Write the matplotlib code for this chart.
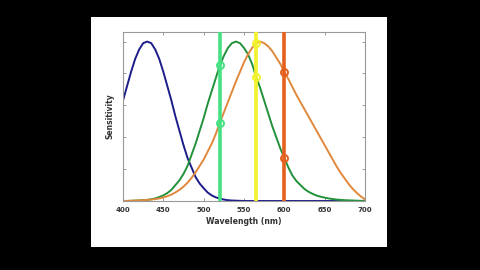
import numpy as np
import matplotlib
matplotlib.use("Agg")
import matplotlib.pyplot as plt
from matplotlib.patches import Rectangle

# wavelength grid (nm), 5 nm steps
wavelength = list(range(400, 701, 5))

# cone sensitivities
s_cone = [0.63, 0.72, 0.81, 0.89, 0.95, 0.99, 1.00, 0.99, 0.95, 0.89, 0.81,
          0.72, 0.63, 0.53, 0.44, 0.35, 0.27, 0.21, 0.15, 0.11, 0.08,
          0.053, 0.035, 0.023, 0.015, 0.009, 0.005, 0.003, 0.002, 0.001, 0.0,
          0.0, 0.0, 0.0, 0.0, 0.0, 0.0, 0.0, 0.0, 0.0, 0.0,
          0.0, 0.0, 0.0, 0.0, 0.0, 0.0, 0.0, 0.0, 0.0, 0.0,
          0.0, 0.0, 0.0, 0.0, 0.0, 0.0, 0.0, 0.0, 0.0, 0.0]
m_cone = [0.0, 0.0, 0.001, 0.002, 0.003, 0.005, 0.007, 0.011, 0.016, 0.025, 0.035,
          0.05, 0.07, 0.10, 0.13, 0.17, 0.22, 0.29, 0.36, 0.44, 0.52,
          0.61, 0.69, 0.77, 0.85, 0.91, 0.96, 0.99, 1.00, 0.99, 0.96,
          0.92, 0.86, 0.78, 0.71, 0.63, 0.55, 0.47, 0.40, 0.33, 0.27,
          0.21, 0.16, 0.125, 0.10, 0.075, 0.058, 0.045, 0.034, 0.027, 0.021,
          0.016, 0.012, 0.009, 0.007, 0.005, 0.004, 0.003, 0.002, 0.001, 0.001]
l_cone = [0.0, 0.001, 0.002, 0.003, 0.004, 0.005, 0.007, 0.009, 0.012, 0.016, 0.022,
          0.03, 0.040, 0.054, 0.070, 0.09, 0.115, 0.145, 0.18, 0.22, 0.26,
          0.31, 0.36, 0.42, 0.49, 0.555, 0.62, 0.685, 0.75, 0.81, 0.87,
          0.92, 0.96, 0.99, 1.00, 0.99, 0.97, 0.94, 0.90, 0.86, 0.81,
          0.765, 0.715, 0.665, 0.62, 0.575, 0.53, 0.485, 0.44, 0.395, 0.35,
          0.305, 0.26, 0.215, 0.175, 0.14, 0.105, 0.075, 0.05, 0.028, 0.01]

# monochromatic lights and where they hit the curves
light_nm = [520, 565, 600]
light_colors = ["#44e082", "#f2f22a", "#e4601e"]
hit_m = [0.85, 0.78, 0.27]
hit_l = [0.49, 0.99, 0.81]

fig = plt.figure(figsize=(4.8, 2.7), dpi=100, facecolor="black")
fig.patches.append(Rectangle((91 / 480, 23 / 270), 296 / 480, 230 / 270,
                             transform=fig.transFigure, facecolor="white",
                             edgecolor="none", zorder=-1))

ax = fig.add_axes([123 / 480, 69 / 270, 242 / 480, 169 / 270])
ax.plot(wavelength, s_cone, color="#1c1c8a", lw=1.4)
ax.plot(wavelength, m_cone, color="#23913a", lw=1.4)
ax.plot(wavelength, l_cone, color="#e0883c", lw=1.4)

for nm, c, m, l in zip(light_nm, light_colors, hit_m, hit_l):
    ax.axvline(nm, color=c, lw=2.6, zorder=3)
    ax.plot([nm, nm], [m, l], "o", ms=5, mfc="none", mec=c, mew=1.4, zorder=4)

ax.set_xlim(400, 700)
ax.set_ylim(0, 1.06)
ax.set_xticks(range(400, 701, 50))
ax.set_yticks([0, 0.2, 0.4, 0.6, 0.8, 1.0])
ax.set_yticklabels([])
ax.tick_params(direction="in", top=True, right=True, length=2.5, width=0.6,
               color="#888888", labelsize=5, labelcolor="#333333", pad=4)
for lab in ax.get_xticklabels():
    lab.set_fontweight("bold")
for sp in ax.spines.values():
    sp.set_color("#999999")
    sp.set_linewidth(0.8)

ax.set_xlabel("Wavelength (nm)", fontsize=5.6, fontweight="bold", color="#333333", labelpad=3)
ax.set_ylabel("Sensitivity", fontsize=5.5, fontweight="bold", color="#333333", labelpad=2)

fig.savefig("out.png", dpi=100, facecolor="black")
